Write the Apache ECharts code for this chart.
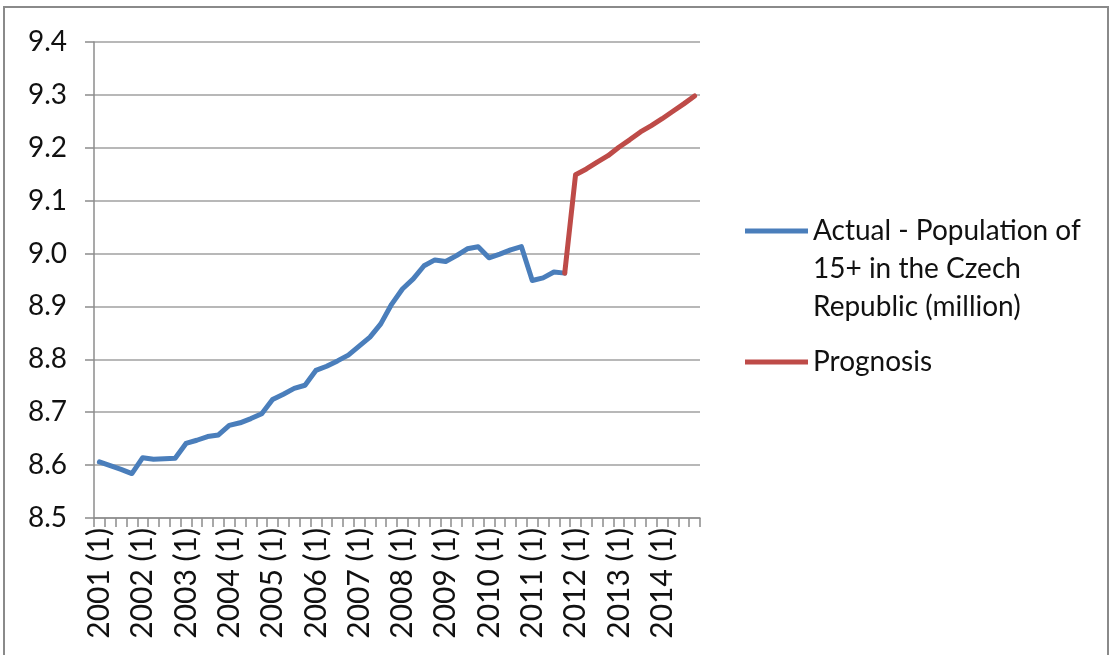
<!DOCTYPE html>
<html>
<head>
<meta charset="utf-8">
<title>Population of 15+ in the Czech Republic</title>
<script src="https://cdn.jsdelivr.net/npm/echarts@6/dist/echarts.min.js"></script>
<style>
  html, body { margin: 0; padding: 0; background: #ffffff; }
  #chart { width: 1111px; height: 655px; }
</style>
</head>
<body>
<div id="chart"></div>
<script>
// Quarterly categories, 2001 Q1 .. 2014 Q4
const categories = [
  '2001 (1)', '2001 (2)', '2001 (3)', '2001 (4)',
  '2002 (1)', '2002 (2)', '2002 (3)', '2002 (4)',
  '2003 (1)', '2003 (2)', '2003 (3)', '2003 (4)',
  '2004 (1)', '2004 (2)', '2004 (3)', '2004 (4)',
  '2005 (1)', '2005 (2)', '2005 (3)', '2005 (4)',
  '2006 (1)', '2006 (2)', '2006 (3)', '2006 (4)',
  '2007 (1)', '2007 (2)', '2007 (3)', '2007 (4)',
  '2008 (1)', '2008 (2)', '2008 (3)', '2008 (4)',
  '2009 (1)', '2009 (2)', '2009 (3)', '2009 (4)',
  '2010 (1)', '2010 (2)', '2010 (3)', '2010 (4)',
  '2011 (1)', '2011 (2)', '2011 (3)', '2011 (4)',
  '2012 (1)', '2012 (2)', '2012 (3)', '2012 (4)',
  '2013 (1)', '2013 (2)', '2013 (3)', '2013 (4)',
  '2014 (1)', '2014 (2)', '2014 (3)', '2014 (4)'
];

// Observed population aged 15+ (million), 2001 (1) .. 2011 (4)
const actualValues = [
  8.606, 8.599, 8.592, 8.584, 8.614, 8.611, 8.612, 8.613, 8.641, 8.647,
  8.654, 8.657, 8.675, 8.680, 8.688, 8.697, 8.724, 8.734, 8.745, 8.751,
  8.779, 8.787, 8.797, 8.808, 8.825, 8.842, 8.867, 8.904, 8.933, 8.952,
  8.977, 8.988, 8.985, 8.996, 9.009, 9.013, 8.992, 8.999, 9.007, 9.013,
  8.949, 8.954, 8.965, 8.963
];

// Forecast, starting from the last observed quarter 2011 (4) .. 2014 (4)
const prognosisStart = 43;
const prognosisValues = [
  8.963, 9.149, 9.160, 9.173, 9.185, 9.201, 9.215, 9.230, 9.242, 9.255,
  9.269, 9.283, 9.298
];

// Y axis ticks
const yTicks = [8.5, 8.6, 8.7, 8.8, 8.9, 9.0, 9.1, 9.2, 9.3, 9.4];

const actualName = 'Actual - Population of\n15+ in the Czech\nRepublic (million)';
const prognosisName = 'Prognosis';

const actualSeries = categories.map((c, i) => i < actualValues.length ? actualValues[i] : null);
const prognosisSeries = categories.map((c, i) =>
  i >= prognosisStart && i - prognosisStart < prognosisValues.length ? prognosisValues[i - prognosisStart] : null);

const FONT = 'Lato, "Open Sans", sans-serif';
const BLUE = '#4a7ebb';
const RED = '#be4b48';
const AXIS_GRAY = '#8c8c8c';
const LEGEND_LINE_H = 38;

const chart = echarts.init(document.getElementById('chart'), null, { renderer: 'canvas' });

chart.setOption({
  animation: false,
  backgroundColor: '#ffffff',
  textStyle: { fontFamily: FONT },
  graphic: [{
    type: 'rect',
    silent: true,
    shape: { x: 4, y: 7, width: 1104, height: 660 },
    style: { fill: 'none', stroke: '#8a8a8a', lineWidth: 2 }
  }],
  grid: { left: 94, right: 411, top: 42, bottom: 137, containLabel: false },
  legend: [{
    data: [actualName],
    orient: 'vertical',
    left: 745,
    // two blank lines above the three text lines keep the swatch level with the first line
    top: 231 - (5 * LEGEND_LINE_H) / 2,
    padding: 0,
    icon: 'rect',
    itemWidth: 63,
    itemHeight: 5,
    selectedMode: false,
    formatter: name => '\n\n' + name,
    textStyle: {
      fontFamily: FONT, fontSize: 28, color: '#111111',
      lineHeight: LEGEND_LINE_H
    }
  }, {
    data: [prognosisName],
    orient: 'vertical',
    left: 745,
    top: 362 - LEGEND_LINE_H / 2,
    padding: 0,
    icon: 'rect',
    itemWidth: 63,
    itemHeight: 5,
    selectedMode: false,
    textStyle: { fontFamily: FONT, fontSize: 28, color: '#111111', lineHeight: LEGEND_LINE_H }
  }],
  xAxis: {
    type: 'category',
    data: categories,
    boundaryGap: true,
    axisLine: { show: true, lineStyle: { color: AXIS_GRAY, width: 1.5 } },
    axisTick: { show: true, interval: 0, length: 9, alignWithLabel: false, lineStyle: { color: AXIS_GRAY, width: 1.5 } },
    axisLabel: {
      interval: 3,
      rotate: 90,
      margin: 10,
      fontFamily: FONT,
      fontSize: 30,
      color: '#111111'
    },
    splitLine: { show: false }
  },
  yAxis: {
    type: 'value',
    min: yTicks[0],
    max: yTicks[yTicks.length - 1],
    interval: 0.1,
    axisLine: { show: true, lineStyle: { color: AXIS_GRAY, width: 1.5 } },
    axisTick: { show: true, length: 9, lineStyle: { color: AXIS_GRAY, width: 1.5 } },
    axisLabel: {
      margin: 27,
      fontFamily: FONT,
      fontSize: 28,
      color: '#111111',
      formatter: v => Number(v).toFixed(1)
    },
    splitLine: { show: true, lineStyle: { color: '#a0a0a0', width: 1.5 } }
  },
  series: [{
    name: actualName,
    type: 'line',
    data: actualSeries,
    symbol: 'none',
    connectNulls: false,
    color: BLUE,
    lineStyle: { color: BLUE, width: 5, cap: 'round', join: 'round' },
    z: 3
  }, {
    name: prognosisName,
    type: 'line',
    data: prognosisSeries,
    symbol: 'none',
    connectNulls: false,
    color: RED,
    lineStyle: { color: RED, width: 5, cap: 'round', join: 'round' },
    z: 4
  }]
});
</script>
</body>
</html>
